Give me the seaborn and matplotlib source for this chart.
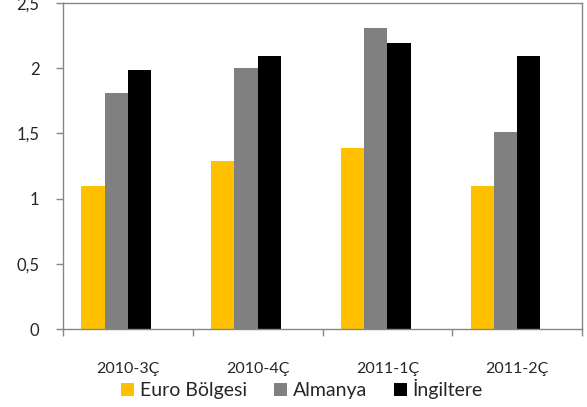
import numpy as np
import pandas as pd
import seaborn as sns
import matplotlib.pyplot as plt
from matplotlib.patches import Patch

# Data
quarters = ['2010-3Ç', '2010-4Ç', '2011-1Ç', '2011-2Ç']
euro = [1.1, 1.29, 1.39, 1.1]
almanya = [1.81, 2.0, 2.31, 1.51]
ingiltere = [1.99, 2.09, 2.19, 2.09]
series = ['Euro Bölgesi', 'Almanya', 'İngiltere']
colors = ['#FFC000', '#808080', '#000000']
y_ticks = [0, 0.5, 1, 1.5, 2, 2.5]
y_labels = ['0', '0,5', '1', '1,5', '2', '2,5']

df = pd.DataFrame({
    'donem': quarters * 3,
    'deger': euro + almanya + ingiltere,
    'seri': np.repeat(series, len(quarters)),
})

sns.set_style('white')
plt.rcParams['font.family'] = ['Lato', 'DejaVu Sans']

fig = plt.figure(figsize=(5.87, 4.07), dpi=100)
ax = fig.add_axes([63 / 587, 78 / 407, 519 / 587, 326 / 407])

# the original has an empty 4th series slot, so the bars sit left of centre
sns.barplot(data=df, x='donem', y='deger', hue='seri', hue_order=series + [''],
            palette=colors + ['white'], width=0.715, saturation=1, linewidth=0,
            errorbar=None, legend=False, ax=ax)

ax.set_xlim(-0.5, len(quarters) - 0.5)
ax.set_ylim(0, 2.5)
ax.set_xlabel('')
ax.set_ylabel('')

ax.set_yticks(y_ticks, y_labels)
ax.tick_params(axis='y', direction='out', length=5, width=1, color='#868686',
               labelsize=12, pad=12, left=True)
ax.tick_params(axis='x', which='major', length=0, labelsize=11.5, pad=24)
ax.set_xticks(np.arange(len(quarters) + 1) - 0.5, minor=True)
ax.tick_params(axis='x', which='minor', direction='out', length=5, width=1,
               color='#868686', bottom=True)

for sp in ax.spines.values():
    sp.set_visible(True)
    sp.set_color('#868686')
    sp.set_linewidth(1)

handles = [Patch(facecolor=c, edgecolor='none', label=s) for s, c in zip(series, colors)]
fig.legend(handles=handles, loc='center', bbox_to_anchor=(302 / 587, 1 - 389 / 407),
           ncol=3, frameon=False, fontsize=14, handlelength=0.68, handleheight=0.68,
           handletextpad=0.28, columnspacing=1.4, borderaxespad=0)

fig.savefig('out.png', dpi=100)
